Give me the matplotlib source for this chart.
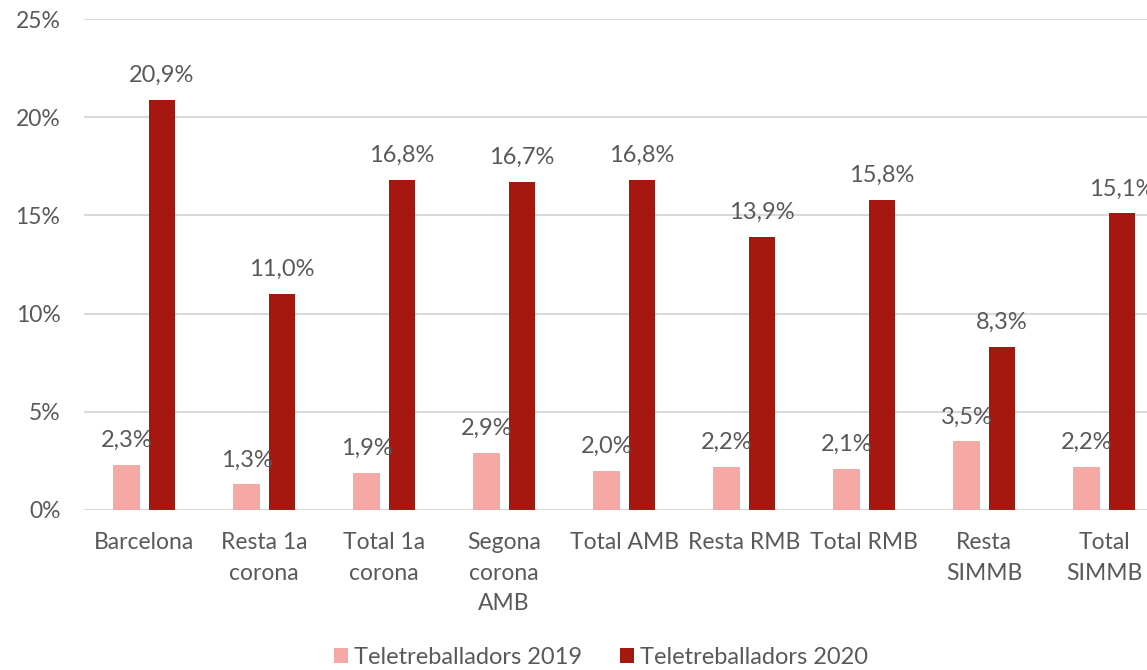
import matplotlib.pyplot as plt
import numpy as np
from matplotlib.ticker import FuncFormatter

categories = ["Barcelona", "Resta 1a\ncorona", "Total 1a\ncorona", "Segona\ncorona\nAMB",
              "Total AMB", "Resta RMB", "Total RMB", "Resta\nSIMMB", "Total\nSIMMB"]
tele_2019 = [2.3, 1.3, 1.9, 2.9, 2.0, 2.2, 2.1, 3.5, 2.2]
tele_2020 = [20.9, 11.0, 16.8, 16.7, 16.8, 13.9, 15.8, 8.3, 15.1]
series_names = ["Teletreballadors 2019", "Teletreballadors 2020"]
yticks = [0, 5, 10, 15, 20, 25]

plt.rcParams["font.family"] = ["Lato", "DejaVu Sans"]
text_color = "#595959"
color_2019 = "#F6A8A4"
color_2020 = "#A41810"

fig = plt.figure(figsize=(11.47, 6.70), dpi=100)
# plot area runs past the right edge, as in the original screenshot
ax = fig.add_axes([84 / 1147, 1 - 510 / 670, 1080 / 1147, 491 / 670])

x = np.arange(len(categories))
width = 0.217
offset = 0.146
bars1 = ax.bar(x - offset, tele_2019, width, color=color_2019, label=series_names[0], zorder=3)
bars2 = ax.bar(x + offset, tele_2020, width, color=color_2020, label=series_names[1], zorder=3)

def pct(v):
    return f"{v:.1f}%".replace(".", ",")

for bars, vals in [(bars1, tele_2019), (bars2, tele_2020)]:
    for b, v in zip(bars, vals):
        ax.annotate(pct(v), (b.get_x() + b.get_width() / 2, v), xytext=(0, 10),
                    textcoords="offset points", ha="center", va="bottom",
                    fontsize=17, color=text_color, zorder=4)

ax.set_xlim(-0.5, len(categories) - 0.5)
ax.set_ylim(0, 25)
ax.set_yticks(yticks)
ax.yaxis.set_major_formatter(FuncFormatter(lambda v, p: f"{v:.0f}%"))
ax.set_xticks(x)
ax.set_xticklabels(categories, linespacing=1.55)
ax.tick_params(axis="both", length=0, labelsize=16.5, labelcolor=text_color)
ax.tick_params(axis="y", pad=17)
ax.tick_params(axis="x", pad=16)
for s in ax.spines.values():
    s.set_visible(False)
ax.grid(axis="y", color="#D9D9D9", linewidth=1.5, zorder=0)
ax.set_axisbelow(True)

fig.legend(handles=[bars1, bars2], loc="center", bbox_to_anchor=(601 / 1147, 1 - 657 / 670),
           ncol=2, frameon=False, fontsize=17, labelcolor=text_color,
           handlelength=0.6, handleheight=0.6, handletextpad=0.25, columnspacing=1.6)

plt.savefig("out.png", dpi=100)
